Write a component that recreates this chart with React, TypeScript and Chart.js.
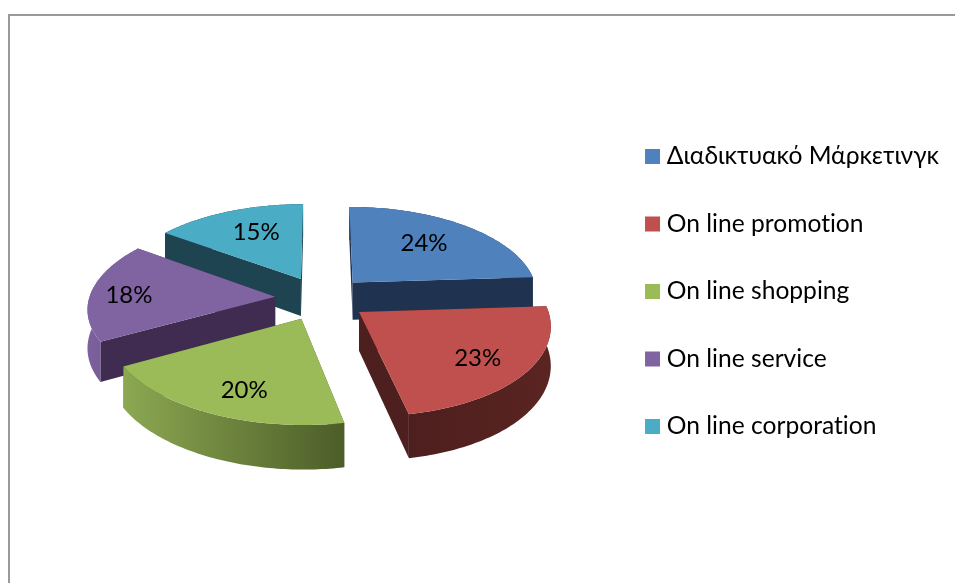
import React, { useEffect, useRef } from "react";
import { Chart, registerables } from "chart.js";

Chart.register(...registerables);

const categories = [
  "Διαδικτυακό Μάρκετινγκ",
  "On line promotion",
  "On line shopping",
  "On line service",
  "On line corporation",
];
const shares = [24, 23, 20, 18, 15];

const topColors = ["#4f81bd", "#c0504d", "#9bbb59", "#8064a2", "#4bacc6"];
const edgeColors = ["#1f3350", "#4d1f1e", "#4f6029", "#3f2c50", "#1d4450"];
const rimLeftColors = ["#1f3350", "#4d1f1e", "#8ca852", "#7d619e", "#1d4450"];
const rimRightColors = ["#1f3350", "#5a2421", "#4c5d28", "#6a5189", "#1d4450"];
const labelReach = [0.58, 0.74, 0.7, 0.79, 0.65];
const labelShiftX = [4, -2, 4, -1, 4];
const labelShiftY = [-5, 2, 8, 3, -1];

// Perspective pie: the plane is seen from above and the near side grows.
const view = { cx: 321.5, cy: 298.2, rx: 186, ry: 88.2, persp: 0.12, explode: 0.25, depth: 38, nearDrift: 3.5 };
const paintOrder = [4, 0, 3, 1, 2];

type Pt = [number, number];

const project = (x: number, y: number, lowered = false): Pt => {
  const w = 1 - view.persp * y;
  const drift = y > 0 ? view.nearDrift * y * y : 0;
  return [
    view.cx + (view.rx * x) / w + drift,
    view.cy + (view.ry * y) / w + (lowered ? view.depth / w : 0),
  ];
};

const fillPoly = (ctx: CanvasRenderingContext2D, pts: Pt[], style: string | CanvasGradient) => {
  ctx.beginPath();
  pts.forEach(([x, y], i) => (i ? ctx.lineTo(x, y) : ctx.moveTo(x, y)));
  ctx.closePath();
  ctx.fillStyle = style;
  ctx.fill();
};

const pie3d = {
  id: "pie3d",
  beforeUpdate(chart: any) {
    // Plain glyph shaping, so "ti" stays two letters in the labels.
    chart.ctx.textRendering = "optimizeSpeed";
  },
  beforeDatasetsDraw(chart: any) {
    const ctx: CanvasRenderingContext2D = chart.ctx;
    const arcs = chart.getDatasetMeta(0).data;
    const faces: { index: number; ox: number; oy: number; mid: number }[] = [];

    paintOrder.forEach((index) => {
      const arc = arcs[index];
      const { startAngle, endAngle } = arc;
      const mid = (startAngle + endAngle) / 2;
      const ox = view.explode * Math.cos(mid);
      const oy = view.explode * Math.sin(mid);
      const steps = Math.ceil(((endAngle - startAngle) * 180) / Math.PI);
      const top: Pt[] = [];
      const bottom: Pt[] = [];
      for (let i = 0; i <= steps; i++) {
        const a = startAngle + ((endAngle - startAngle) * i) / steps;
        const x = ox + Math.cos(a);
        const y = oy + Math.sin(a);
        top.push(project(x, y));
        bottom.push(project(x, y, true));
      }
      const apexTop = project(ox, oy);
      const apexLow = project(ox, oy, true);

      // Cut faces, then the curved rim, then the top of the slice.
      fillPoly(ctx, [apexTop, top[0], bottom[0], apexLow], edgeColors[index]);
      fillPoly(ctx, [apexTop, top[steps], bottom[steps], apexLow], edgeColors[index]);

      const xs = top.map((p) => p[0]);
      const shade = ctx.createLinearGradient(Math.min(...xs), 0, Math.max(...xs), 0);
      shade.addColorStop(0, rimLeftColors[index]);
      shade.addColorStop(1, rimRightColors[index]);
      fillPoly(ctx, [...top, ...bottom.slice().reverse()], shade);

      fillPoly(ctx, [apexTop, ...top], topColors[index]);
      faces.push({ index, ox, oy, mid });
    });

    ctx.save();
    ctx.fillStyle = "#000000";
    ctx.font = "24px Lato";
    ctx.textAlign = "center";
    ctx.textBaseline = "middle";
    faces.forEach(({ index, ox, oy, mid }) => {
      const [x, y] = project(
        ox + labelReach[index] * Math.cos(mid),
        oy + labelReach[index] * Math.sin(mid)
      );
      ctx.fillText(`${shares[index]}%`, x + labelShiftX[index], y + labelShiftY[index]);
    });
    ctx.restore();
    return false;
  },
};

export default function App() {
  const ref = useRef<HTMLCanvasElement>(null);

  useEffect(() => {
    const chart = new Chart(ref.current!, {
      type: "pie",
      data: {
        labels: categories,
        datasets: [{ data: shares, backgroundColor: topColors, borderWidth: 0 }],
      },
      options: {
        animation: false,
        responsive: false,
        layout: { padding: { right: 6 } },
        plugins: {
          tooltip: { enabled: false },
          legend: {
            position: "right",
            labels: {
              color: "#000000",
              font: { family: "Lato, 'Noto Sans'", size: 24.6 },
              boxWidth: 4,
              boxHeight: 4,
              padding: 42.9,
              generateLabels: () =>
                categories.map((text, i) => ({
                  text,
                  fillStyle: topColors[i],
                  strokeStyle: topColors[i],
                  lineWidth: 11,
                  lineJoin: "miter",
                  hidden: false,
                  index: i,
                })),
            },
          },
        },
      },
      plugins: [pie3d],
    } as any);
    return () => chart.destroy();
  }, []);

  return (
    <div style={{ position: "absolute", left: 0, top: 0, width: 955, height: 583, background: "#fff", overflow: "hidden" }}>
      <div style={{ position: "absolute", left: 8, top: 14, right: 0, bottom: 0, borderLeft: "2px solid #999", borderTop: "2px solid #999" }} />
      <canvas ref={ref} width={955} height={583} style={{ position: "absolute", left: 0, top: 0 }} />
    </div>
  );
}
